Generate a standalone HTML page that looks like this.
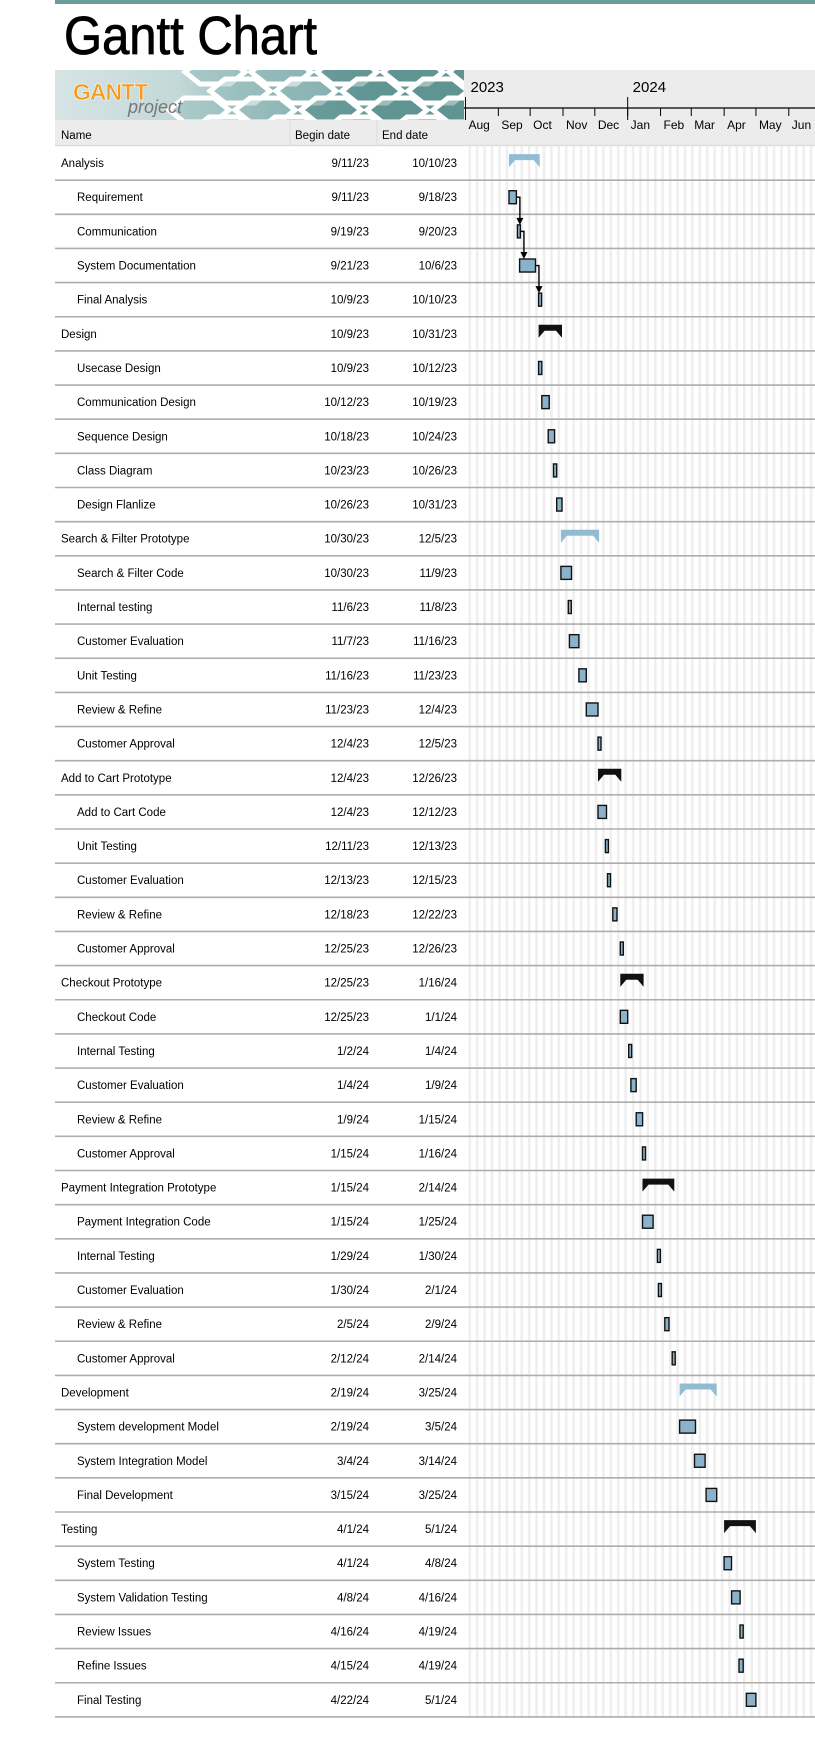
<!DOCTYPE html>
<html><head><meta charset="utf-8"><style>
html,body{margin:0;padding:0;background:#fff;}
body{width:815px;height:1735px;overflow:hidden;font-family:"Liberation Sans",Arial,sans-serif;}
svg text{font-family:"Liberation Sans",Arial,sans-serif;}
</style></head><body>
<svg id="chart" width="815" height="1735" viewBox="0 0 815 1735" xmlns="http://www.w3.org/2000/svg">
<defs>
<linearGradient id="lg" x1="0" x2="1" y1="0" y2="0">
<stop offset="0" stop-color="#d6e4e4"/><stop offset="0.3" stop-color="#c3d8d8"/><stop offset="0.55" stop-color="#8bb2b1"/><stop offset="0.8" stop-color="#6a9b99"/><stop offset="1" stop-color="#669896"/>
</linearGradient>
<clipPath id="logoclip"><rect x="55" y="70" width="409" height="50"/></clipPath>
</defs>
<rect x="55" y="0" width="760" height="4" fill="#6a9c9a"/>
<text x="64" y="54" font-size="51" fill="#000" stroke="#000" stroke-width="0.8" transform="translate(64 54) scale(0.96 1.05) translate(-64 -54)">Gantt Chart</text>
<g id="logo" clip-path="url(#logoclip)">
<rect x="55" y="70" width="409" height="50" fill="url(#lg)"/>
<g id="hexes" stroke="#fff" stroke-width="5"></g>
<text x="73" y="100" font-size="23" font-weight="bold" fill="#f39a1f" stroke="#fff" stroke-width="0.5" letter-spacing="-1">GANTT</text>
<text x="128" y="113" font-size="18" font-style="italic" fill="#777" font-family="Liberation Serif, serif">project</text>
</g>
<rect x="55" y="120" width="409" height="25" fill="#ececec"/>
<rect x="464" y="70" width="351" height="75" fill="#ececec"/>
<line x1="290" y1="120" x2="290" y2="145" stroke="#ddd"/>
<line x1="377" y1="120" x2="377" y2="145" stroke="#ddd"/>
<text x="61" y="139" font-size="11.5">Name</text>
<text x="295" y="139" font-size="11.5">Begin date</text>
<text x="382" y="139" font-size="11.5">End date</text>
<line x1="55" y1="145.5" x2="815" y2="145.5" stroke="#dcdcdc" stroke-width="1.5"/>
<g id="stripes"></g>
<g id="axis"></g>
<g id="rows"></g>
<g id="bars"></g>
</svg>
<script>
const taskNames=["Analysis","Requirement","Communication","System Documentation","Final Analysis","Design","Usecase Design","Communication Design","Sequence Design","Class Diagram","Design Flanlize","Search & Filter Prototype","Search & Filter Code","Internal testing","Customer Evaluation","Unit Testing","Review & Refine","Customer Approval","Add to Cart Prototype","Add to Cart Code","Unit Testing","Customer Evaluation","Review & Refine","Customer Approval","Checkout Prototype","Checkout Code","Internal Testing","Customer Evaluation","Review & Refine","Customer Approval","Payment Integration Prototype","Payment Integration Code","Internal Testing","Customer Evaluation","Review & Refine","Customer Approval","Development","System development Model","System Integration Model","Final Development","Testing","System Testing","System Validation Testing","Review Issues","Refine Issues","Final Testing"];
const beginDates=["9/11/23","9/11/23","9/19/23","9/21/23","10/9/23","10/9/23","10/9/23","10/12/23","10/18/23","10/23/23","10/26/23","10/30/23","10/30/23","11/6/23","11/7/23","11/16/23","11/23/23","12/4/23","12/4/23","12/4/23","12/11/23","12/13/23","12/18/23","12/25/23","12/25/23","12/25/23","1/2/24","1/4/24","1/9/24","1/15/24","1/15/24","1/15/24","1/29/24","1/30/24","2/5/24","2/12/24","2/19/24","2/19/24","3/4/24","3/15/24","4/1/24","4/1/24","4/8/24","4/16/24","4/15/24","4/22/24"];
const endDates=["10/10/23","9/18/23","9/20/23","10/6/23","10/10/23","10/31/23","10/12/23","10/19/23","10/24/23","10/26/23","10/31/23","12/5/23","11/9/23","11/8/23","11/16/23","11/23/23","12/4/23","12/5/23","12/26/23","12/12/23","12/13/23","12/15/23","12/22/23","12/26/23","1/16/24","1/1/24","1/4/24","1/9/24","1/15/24","1/16/24","2/14/24","1/25/24","1/30/24","2/1/24","2/9/24","2/14/24","3/25/24","3/5/24","3/14/24","3/25/24","5/1/24","4/8/24","4/16/24","4/19/24","4/19/24","5/1/24"];
const summaryRows=[0,5,11,18,24,30,36,40];
const lightSummaryRows=[0,11,36];
const dependencies=[[1,2],[2,3],[3,4]];
const monthLabels=["Aug","Sep","Oct","Nov","Dec","Jan","Feb","Mar","Apr","May","Jun"];
const monthStarts=["8/1/23","9/1/23","10/1/23","11/1/23","12/1/23","1/1/24","2/1/24","3/1/24","4/1/24","5/1/24","6/1/24"];
const yearLabels=["2023","2024"];
const yearStarts=["8/1/23","1/1/24"];

const NS="http://www.w3.org/2000/svg";
const X0=465.5, PXD=1.06, ROW0=146, RH=34.15;
const ORIGIN=Date.UTC(2023,7,1);
function parseD(s){const p=s.split('/');return Date.UTC(2000+ +p[2],p[0]-1,+p[1]);}
function xScale(s){return X0+(parseD(s)-ORIGIN)/86400000*PXD;}
function yRow(i){return ROW0+RH*i+RH/2;}
function mk(tag,attrs,parent){const e=document.createElementNS(NS,tag);for(const k in attrs)e.setAttribute(k,attrs[k]);parent.appendChild(e);return e;}

// hexagons
const hx=document.getElementById('hexes');
for(let r=-1;r<4;r++){for(let c=0;c<6;c++){
 const cx=215+c*66+(r%2?33:0)-r*8, cy=72+r*19, w=30, h=12;
 const pts=[[cx-w,cy],[cx-w/2,cy-h],[cx+w/2,cy-h],[cx+w,cy],[cx+w/2,cy+h],[cx-w/2,cy+h]].map(p=>p.join(',')).join(' ');
 const shade=c<2?'rgba(150,190,190,0.5)':'rgba(90,145,143,0.6)';
 const hg=mk('polygon',{points:pts,fill:shade},hx);
 
 
}}

// stripes (weekend shading)
const st=document.getElementById('stripes');
for(let x=X0+3;x<815;x+=7*PXD){
 const s=mk('rect',{x:x.toFixed(2),y:146,width:2.6,height:1572,fill:'#efefef'},st);
 
 
}

// axis
const ax=document.getElementById('axis');
const axl=mk('line',{x1:464,y1:108,x2:815,y2:108,stroke:'#000','stroke-width':1.2},ax);


yearLabels.forEach((y,i)=>{
 const x=Math.max(464,xScale(yearStarts[i]));
 const t=mk('text',{x:x+5,y:92,'font-size':15},ax);t.textContent=y;
 
 
 const l=mk('line',{x1:x,y1:97,x2:x,y2:120,stroke:'#000','stroke-width':1},ax);
 
 
});
monthLabels.forEach((m,i)=>{
 const x=Math.max(464.5,xScale(monthStarts[i]));
 const l=mk('line',{x1:x,y1:108,x2:x,y2:116,stroke:'#000','stroke-width':1},ax);
 
 
 const t=mk('text',{x:x+3,y:129,'font-size':12},ax);t.textContent=m;
 
 
});

// rows
const rg=document.getElementById('rows');
taskNames.forEach((n,i)=>{
 const c=yRow(i), isS=summaryRows.includes(i);
 const t=mk('text',{x:isS?61:77,y:c+4,'font-size':11.5},rg);t.textContent=n;
 
 
 const b=mk('text',{x:369,y:c+4,'font-size':11.5,'text-anchor':'end'},rg);b.textContent=beginDates[i];
 
 
 const e=mk('text',{x:457,y:c+4,'font-size':11.5,'text-anchor':'end'},rg);e.textContent=endDates[i];
 
 
 const l=mk('line',{x1:55,y1:ROW0+RH*(i+1),x2:815,y2:ROW0+RH*(i+1),stroke:'#adadad','stroke-width':1.6},rg);
 
 
});

// bars
const bg=document.getElementById('bars');
taskNames.forEach((n,i)=>{
 const c=yRow(i);let x1=xScale(beginDates[i]),x2=xScale(endDates[i]);
 if(x2-x1<3)x2=x1+3;
 if(summaryRows.includes(i)){
  const col=lightSummaryRows.includes(i)?'#92bcd3':'#111';
  const top=c-9,bot=c+4;
  const pts=[[x1,top],[x2,top],[x2,bot],[x2-6,top+6],[x1+6,top+6],[x1,bot]].map(p=>p.map(v=>v.toFixed(1)).join(',')).join(' ');
  const p=mk('polygon',{points:pts,fill:col},bg);
  
  
 } else {
  const r=mk('rect',{x:x1.toFixed(1),y:c-6.5,width:(x2-x1).toFixed(1),height:13,fill:'#8ab3cb',stroke:'#111','stroke-width':1.4},bg);
  
  
 }
});
// dependency arrows
dependencies.forEach(([a,b])=>{
 let x1=xScale(beginDates[a]),x2=xScale(endDates[a]);if(x2-x1<3)x2=x1+3;
 const xv=x2+3.5, ya=yRow(a), yb=yRow(b)-6.5;
 const p=mk('polyline',{points:`${x2},${ya} ${xv},${ya} ${xv},${yb-5}`,fill:'none',stroke:'#000','stroke-width':1.4},bg);
 
 
 const h=mk('polygon',{points:`${xv-3.5},${yb-7} ${xv+3.5},${yb-7} ${xv},${yb}`,fill:'#000'},bg);
 
 
});
</script>
</body></html>
